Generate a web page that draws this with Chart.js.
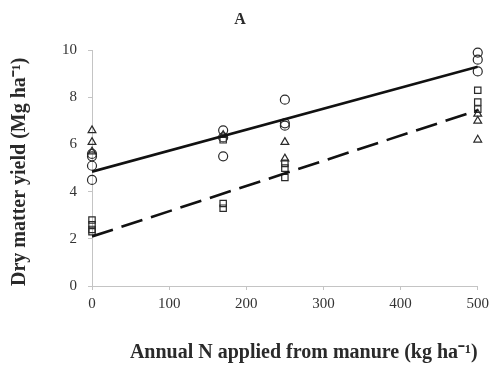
<!DOCTYPE html>
<html lang="en">
<head>
    <meta charset="UTF-8">
    <title>Dry matter yield</title>
    <script src="https://cdn.jsdelivr.net/npm/chart.js"></script>
    <style>
        html, body { margin: 0; padding: 0; background: #fff; }
        #wrap { width: 494px; height: 372px; }
    </style>
</head>
<body>
    <div id="wrap"><canvas id="yieldChart" width="494" height="372"></canvas></div>

    <script>
        // N rates (kg/ha) with observed yields (Mg/ha), one list per marker type
        const circleX = [0, 0, 0, 0, 170, 170, 170, 250, 250, 250, 500, 500, 500];
        const circleY = [5.6, 5.5, 5.1, 4.5, 6.6, 6.3, 5.5, 7.9, 6.9, 6.8, 9.9, 9.6, 9.1];

        const triangleX = [0, 0, 0, 170, 250, 250, 500, 500, 500];
        const triangleY = [6.6, 6.1, 5.7, 6.4, 6.1, 5.4, 7.3, 7.0, 6.2];

        const squareX = [0, 0, 0, 0, 170, 170, 170, 250, 250, 250, 500, 500, 500];
        const squareY = [2.8, 2.6, 2.4, 2.3, 6.2, 3.5, 3.3, 5.2, 5.0, 4.6, 8.3, 7.8, 7.5];

        // fitted lines, end points
        const fitX = [0, 500];
        const solidFit = [4.85, 9.3];
        const dashedFit = [2.1, 7.45];

        const xTicks = [0, 100, 200, 300, 400, 500];
        const yTicks = [0, 2, 4, 6, 8, 10];

        const pts = (xs, ys) => xs.map((x, i) => ({ x: x, y: ys[i] }));

        const ink = '#2a2a2a';
        const axisGray = '#c4c4c4';
        const serif = "'Liberation Serif', 'Times New Roman', serif";

        const markerStyle = {
            type: 'scatter',
            borderColor: ink,
            backgroundColor: 'rgba(0,0,0,0)',
            borderWidth: 1.2,
            pointRadius: 4.5,
            clip: false
        };

        new Chart(document.getElementById('yieldChart'), {
            data: {
                datasets: [
                    {
                        type: 'line',
                        data: pts(fitX, solidFit),
                        borderColor: '#111',
                        borderWidth: 2.6,
                        pointRadius: 0,
                        fill: false
                    },
                    {
                        type: 'line',
                        data: pts(fitX, dashedFit),
                        borderColor: '#111',
                        borderWidth: 2.6,
                        borderDash: [22, 9],
                        pointRadius: 0,
                        fill: false
                    },
                    Object.assign({ data: pts(circleX, circleY), pointStyle: 'circle' }, markerStyle),
                    Object.assign({ data: pts(triangleX, triangleY), pointStyle: 'triangle' }, markerStyle),
                    Object.assign({ data: pts(squareX, squareY), pointStyle: 'rect', pointRadius: 4.2 }, markerStyle)
                ]
            },
            options: {
                responsive: false,
                animation: false,
                layout: { padding: { left: 0, right: 14, top: 0, bottom: 0 } },
                plugins: {
                    legend: { display: false },
                    tooltip: { enabled: false },
                    title: {
                        display: true,
                        text: 'A',
                        color: ink,
                        font: { family: serif, size: 16, weight: 'bold' },
                        padding: { top: 10, bottom: 21 }
                    }
                },
                scales: {
                    x: {
                        type: 'linear',
                        min: 0,
                        max: 500,
                        afterBuildTicks: s => { s.ticks = xTicks.map(v => ({ value: v })); },
                        afterFit: s => { s.height = 86; },
                        grid: { drawOnChartArea: false, color: axisGray, tickLength: 4 },
                        border: { color: axisGray },
                        ticks: {
                            color: '#333',
                            padding: 5,
                            maxRotation: 0,
                            font: { family: serif, size: 15 }
                        },
                        title: {
                            display: true,
                            align: 'end',
                            text: 'Annual N applied from manure (kg ha⁻¹)',
                            color: ink,
                            font: { family: serif, size: 20, weight: 'bold' },
                            padding: { top: 0, bottom: 7 }
                        }
                    },
                    y: {
                        type: 'linear',
                        min: 0,
                        max: 10,
                        afterBuildTicks: s => { s.ticks = yTicks.map(v => ({ value: v })); },
                        afterFit: s => { s.width = 92; },
                        grid: { drawOnChartArea: false, color: axisGray, tickLength: 4 },
                        border: { color: axisGray },
                        ticks: {
                            color: '#333',
                            padding: 11,
                            font: { family: serif, size: 15 }
                        },
                        title: {
                            display: true,
                            align: 'start',
                            text: 'Dry matter yield (Mg ha⁻¹)',
                            color: ink,
                            font: { family: serif, size: 20, weight: 'bold' },
                            padding: { top: 8, bottom: 0 }
                        }
                    }
                }
            }
        });
    </script>
</body>
</html>
